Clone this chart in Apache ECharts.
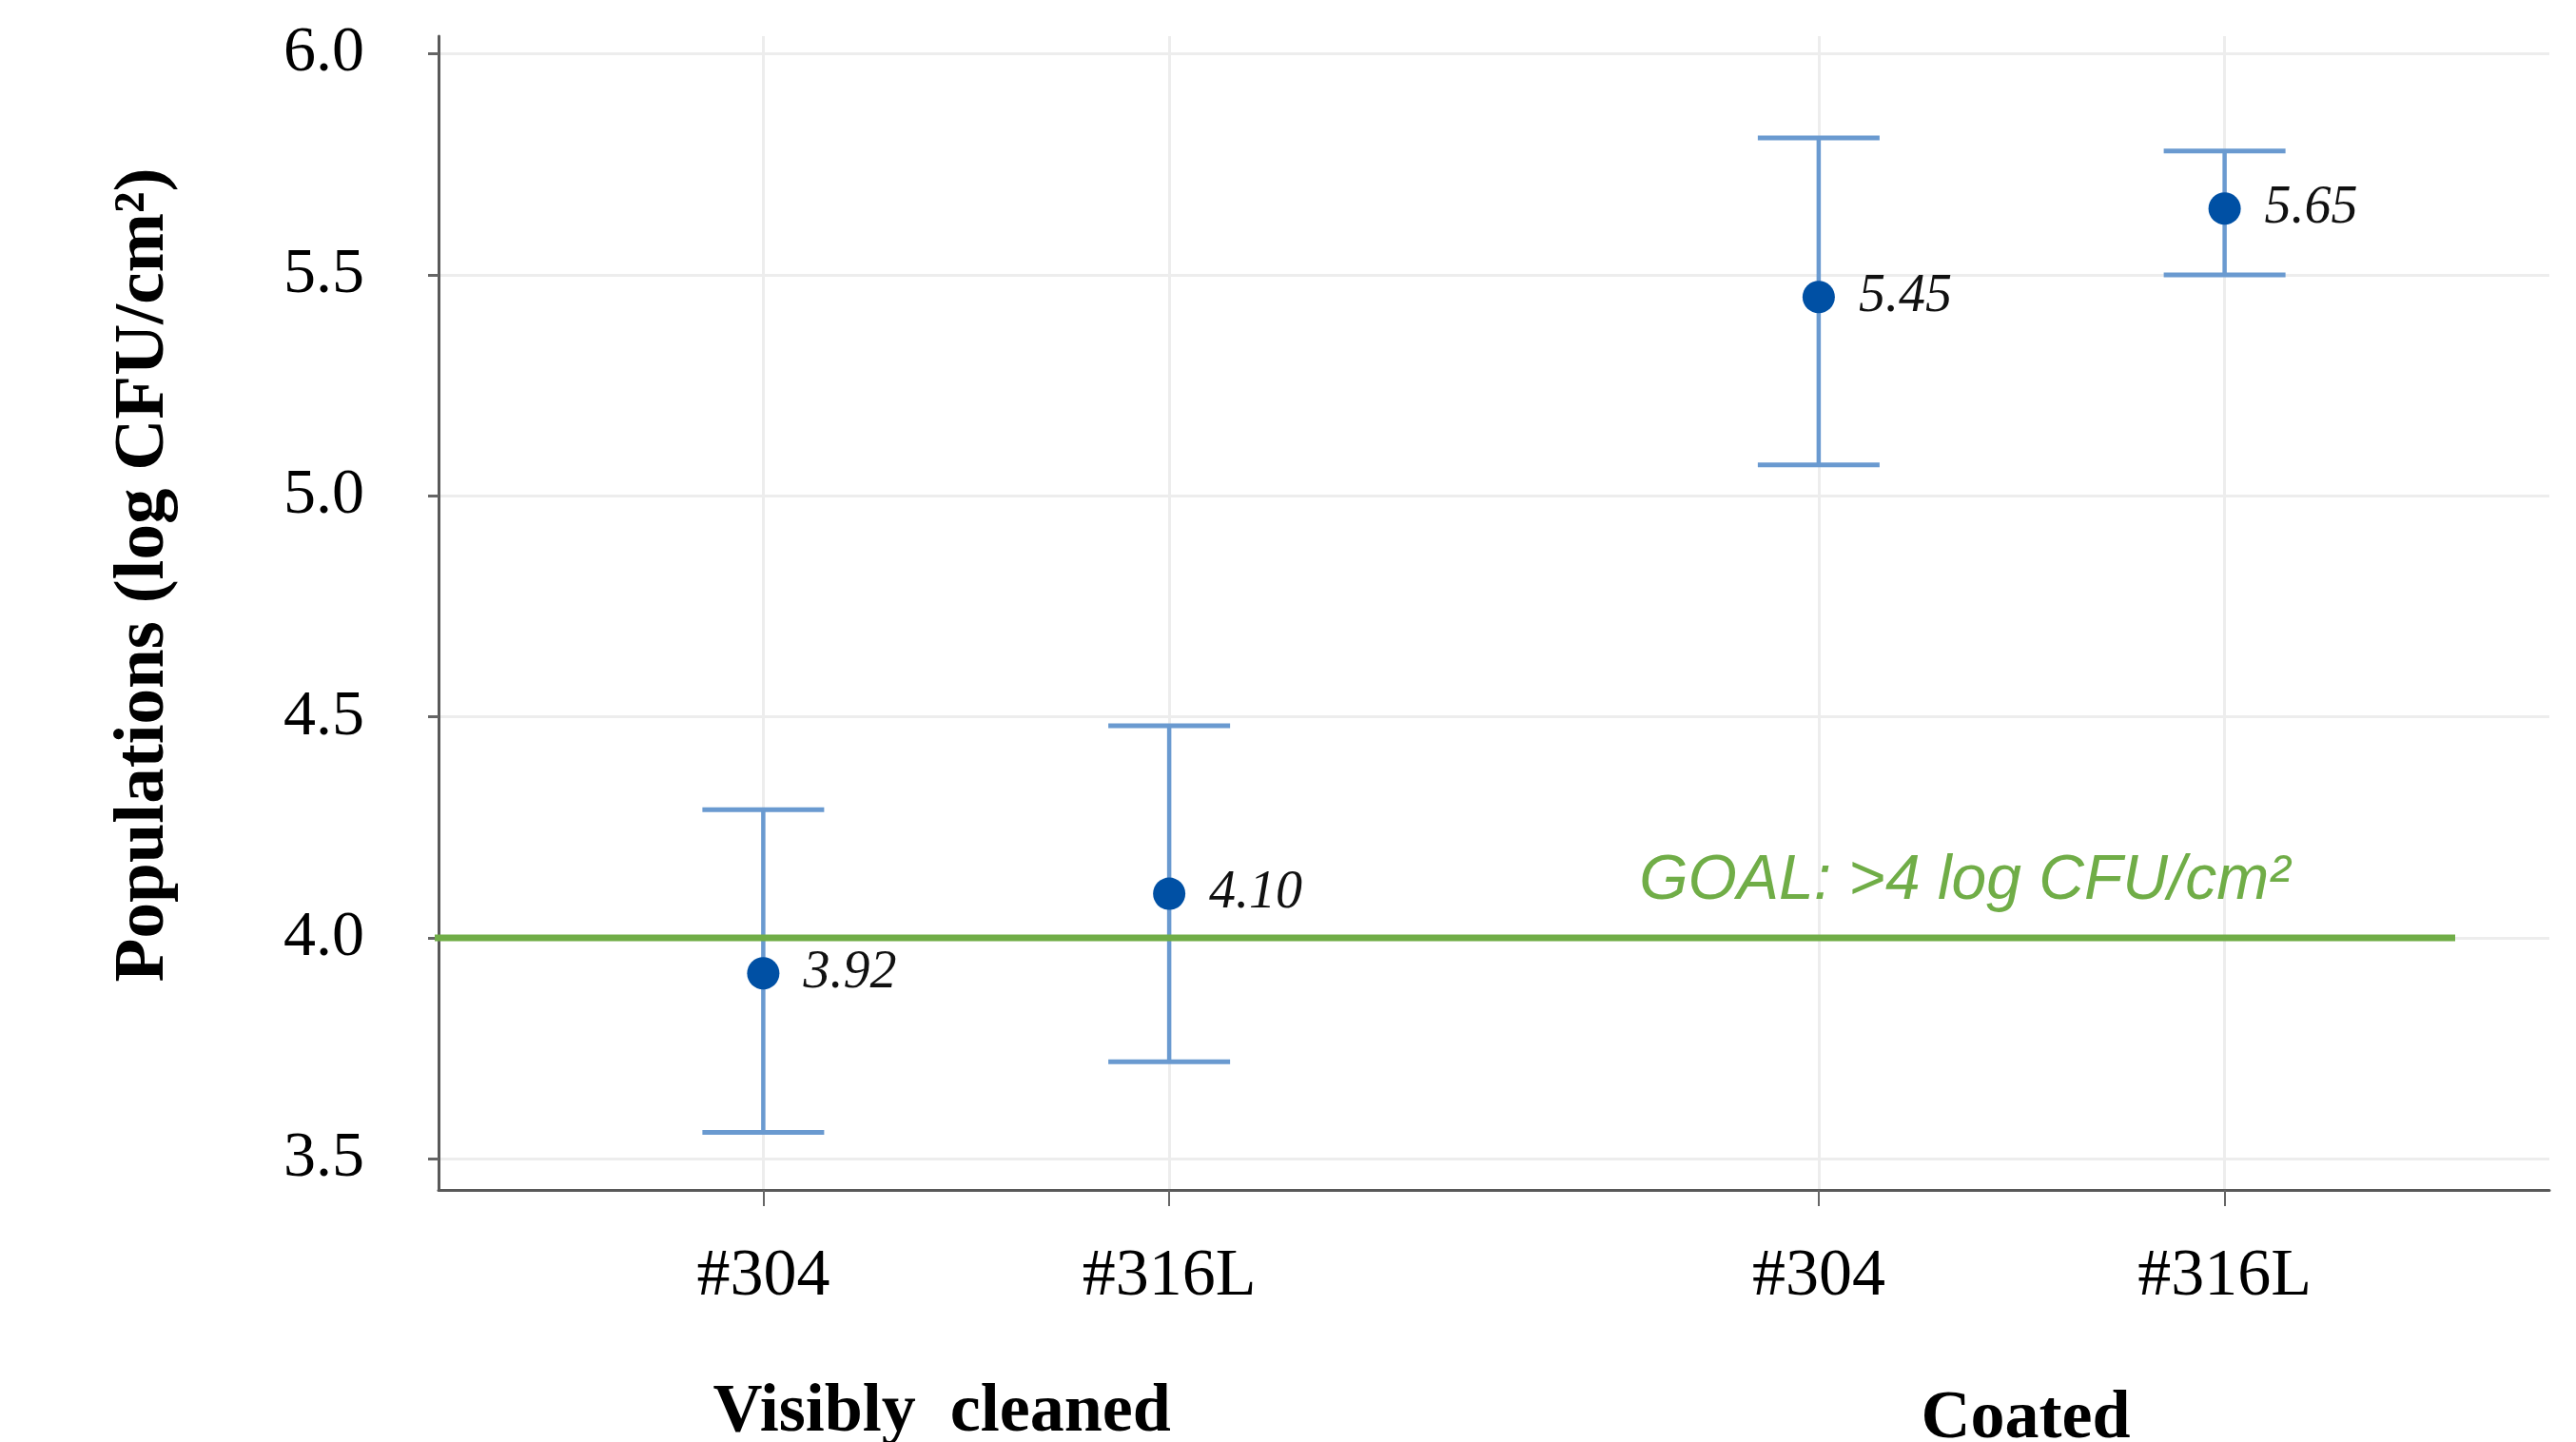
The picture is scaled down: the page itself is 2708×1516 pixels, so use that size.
<!DOCTYPE html>
<html><head><meta charset="utf-8">
<script src="https://cdn.jsdelivr.net/npm/echarts@6/dist/echarts.min.js"></script>
<style>html,body{margin:0;padding:0;background:#fff}#c{width:2708px;height:1516px}</style>
</head><body><div id="c"></div>
<script>
// ---- data ----
const categories = ['#304', '#316L', '#304', '#316L'];
const categoryX = [1, 2, 3.6, 4.6];
const groups = ['Visibly  cleaned', 'Coated'];
const groupX = [1.44, 4.11];
const means = [3.92, 4.10, 5.45, 5.65];
const lower = [3.56, 3.72, 5.07, 5.50];
const upper = [4.29, 4.48, 5.81, 5.78];
const yTicks = [3.5, 4.0, 4.5, 5.0, 5.5, 6.0];
const goalValue = 4.0;
const goalSpan = [0.125, 5.168];
const goalText = 'GOAL: >4 log CFU/cm²';
const goalTextX = 3.158;
const yAxisTitle = 'Populations (log CFU/cm²)';

function lookupIndex(vals, v) {
  for (let i = 0; i < vals.length; i++) if (Math.abs(vals[i] - v) < 1e-6) return i;
  return -1;
}

const serif = "'Liberation Serif', 'Times New Roman', serif";
const chart = echarts.init(document.getElementById('c'), null, {renderer: 'canvas'});

const groupFont = {fontFamily: serif, fontWeight: 'bold', fontSize: 72, color: '#000'};

const option = {
  animation: false,
  backgroundColor: '#ffffff',
  grid: {left: 461, right: 28, top: 38, bottom: 265, containLabel: false, outerBoundsMode: 'none'},
  xAxis: [{
    type: 'value', min: 0.2, max: 5.4, position: 'bottom',
    axisLine: {show: true, lineStyle: {color: '#595959', width: 3}},
    axisTick: {show: true, customValues: categoryX, length: 17, lineStyle: {color: '#666', width: 2}},
    axisLabel: {customValues: categoryX, formatter: v => categories[lookupIndex(categoryX, v)] || '',
      fontFamily: serif, fontSize: 70, color: '#000', margin: 57},
    splitLine: {show: true, lineStyle: {color: '#ededed', width: 3}}
  }, {
    type: 'value', min: 0.2, max: 5.4, position: 'bottom',
    axisLine: {show: false}, axisTick: {show: false}, splitLine: {show: false},
    axisLabel: {customValues: groupX,
      formatter: v => { const i = lookupIndex(groupX, v); return i < 0 ? '' : '{g' + i + '|' + groups[i] + '}'; },
      rich: {
        g0: Object.assign({padding: [8, 0, 0, 0]}, groupFont),
        g1: Object.assign({padding: [15, 0, 0, 0]}, groupFont)
      },
      fontFamily: serif, fontWeight: 'bold', fontSize: 72, color: '#000', margin: 190}
  }],
  yAxis: {
    type: 'value', min: 3.43, max: 6.04,
    name: yAxisTitle, nameLocation: 'middle', nameGap: 272,
    nameTextStyle: {fontFamily: serif, fontWeight: 'bold', fontSize: 75, color: '#000', padding: [0, 0, 0, 80]},
    axisLine: {show: true, lineStyle: {color: '#595959', width: 3}},
    axisTick: {show: true, customValues: yTicks, length: 11, lineStyle: {color: '#666', width: 3}},
    axisLabel: {customValues: yTicks, formatter: v => v.toFixed(1),
      fontFamily: serif, fontSize: 68, color: '#000', margin: 78},
    splitLine: {show: true, lineStyle: {color: '#ededed', width: 3}}
  },
  series: [{
    type: 'custom', name: 'error', xAxisIndex: 0, z: 2, silent: true,
    data: categoryX.map((x, i) => [x, lower[i], upper[i]]),
    renderItem: function (params, api) {
      const x = api.value(0), lo = api.value(1), hi = api.value(2);
      const pLo = api.coord([x, lo]), pHi = api.coord([x, hi]);
      const half = 64;
      const col = '#6a9ad0';
      return {type: 'group', children: [
        {type: 'line', shape: {x1: pLo[0], y1: pLo[1], x2: pHi[0], y2: pHi[1]}, style: {stroke: col, lineWidth: 4.5}},
        {type: 'line', shape: {x1: pHi[0] - half, y1: pHi[1], x2: pHi[0] + half, y2: pHi[1]}, style: {stroke: col, lineWidth: 5}},
        {type: 'line', shape: {x1: pLo[0] - half, y1: pLo[1], x2: pLo[0] + half, y2: pLo[1]}, style: {stroke: col, lineWidth: 5}}
      ]};
    }
  }, {
    type: 'line', name: 'goal', xAxisIndex: 0, z: 3, silent: true, clip: false,
    symbol: 'none',
    data: [[goalSpan[0], goalValue], [goalSpan[1], goalValue]],
    lineStyle: {color: '#70ad47', width: 7, opacity: 1}
  }, {
    type: 'scatter', name: 'goalLabel', xAxisIndex: 0, z: 4, silent: true,
    symbolSize: 0, itemStyle: {color: 'rgba(0,0,0,0)', opacity: 1},
    data: [[goalTextX, goalValue]],
    label: {show: true, position: [0, 0], align: 'left', verticalAlign: 'middle', offset: [0, -59],
      formatter: goalText, fontFamily: "'Liberation Sans', Arial, sans-serif", fontStyle: 'italic',
      fontSize: 66, color: '#70ad47', opacity: 1}
  }, {
    type: 'scatter', name: 'mean', xAxisIndex: 0, z: 5, silent: true,
    symbol: 'circle', symbolSize: 34,
    itemStyle: {color: '#0050a4', opacity: 1},
    data: categoryX.map((x, i) => [x, means[i]]),
    label: {show: true, position: 'right', distance: 25,
      formatter: p => means[p.dataIndex].toFixed(2),
      fontFamily: serif, fontStyle: 'italic', fontSize: 56, color: '#111', opacity: 1}
  }]
};
chart.setOption(option);
</script>
</body></html>
